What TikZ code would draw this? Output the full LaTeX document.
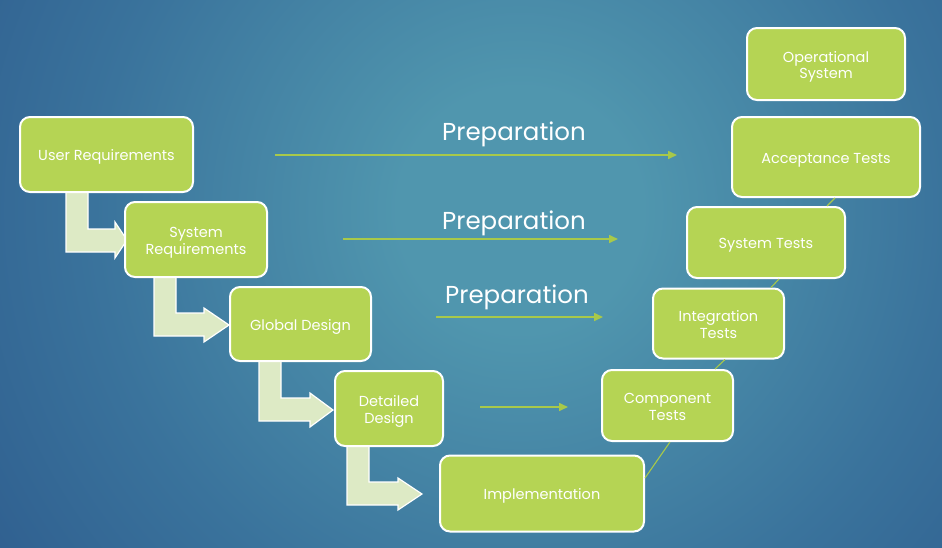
\documentclass[tikz,border=0pt]{standalone}
\usepackage{fontspec}
\setmainfont{Poppins}
\usetikzlibrary{arrows.meta,calc}
\definecolor{bginner}{HTML}{5096AE}
\definecolor{bgmid}{HTML}{3A739C}
\definecolor{bgouter}{HTML}{254B83}
\definecolor{boxgreen}{HTML}{B5D454}
\definecolor{palegreen}{HTML}{DDEAC5}
\definecolor{linegreen}{HTML}{A8C94A}
\pgfdeclareradialshading{bgshade}{\pgfpoint{0bp}{0bp}}{color(0bp)=(bginner); color(4bp)=(bginner); color(14bp)=(bgmid); color(28bp)=(bgouter); color(50bp)=(bgouter)}
\newcommand{\boxtext}[1]{\raisebox{-3pt}[\height][\depth]{\begin{tabular}{@{}c@{}}#1\end{tabular}}}
\tikzset{
  vbox/.style={draw=white, line width=2pt, fill=boxgreen, rounded corners=10pt,
    text=white, inner sep=0pt, font=\fontsize{14.5}{16.5}\selectfont},
  blockarrow/.style={draw=white, line width=1.2pt, fill=palegreen, line join=miter},
  link/.style={draw=linegreen, line width=1.1pt},
  prep/.style={draw=linegreen, line width=1.6pt, -{Triangle[length=9pt,width=8pt]}},
  preplabel/.style={text=white, inner sep=0pt, font=\fontsize{24.5}{28}\selectfont}
}
\renewcommand{\arraystretch}{1}
\begin{document}
\begin{tikzpicture}[x=1pt,y=-1pt]
\useasboundingbox (0,0) rectangle (942,547);
\begin{scope}
\clip (0,0) rectangle (942,547);
\fill[bgouter] (0,0) rectangle (942,547);
\shade[shading=bgshade] (520,210) circle (760);
\end{scope}

% block arrows (drawn under boxes)
\draw[blockarrow] (66,185) -- (66,252) -- (115,252) -- (115,258) -- (127,240) -- (115,222) -- (115,229) -- (88,229) -- (88,185) -- cycle;
\draw[blockarrow] (154,270) -- (154,336) -- (204,336) -- (204,342) -- (229,325) -- (204,308) -- (204,313) -- (176,313) -- (176,270) -- cycle;
\draw[blockarrow] (259,355) -- (259,421) -- (310,421) -- (310,427) -- (333,410) -- (310,393) -- (310,398) -- (281,398) -- (281,355) -- cycle;
\draw[blockarrow] (347,440) -- (347,505) -- (398,505) -- (398,510) -- (422,494) -- (398,478) -- (398,482) -- (369,482) -- (369,440) -- cycle;

% boxes
\node[vbox, minimum width=173pt, minimum height=75pt] (ur) at (106.5,154.5) {\boxtext{User Requirements}};
\node[vbox, minimum width=142pt, minimum height=75pt] (sr) at (196,239.5) {\boxtext{System\\Requirements}};
\node[vbox, minimum width=141pt, minimum height=74pt] (gd) at (300.5,324) {\boxtext{Global Design}};
\node[vbox, minimum width=108pt, minimum height=75pt] (dd) at (389,408.5) {\boxtext{Detailed\\Design}};
\node[vbox, minimum width=204pt, minimum height=76pt] (im) at (542,493.5) {\boxtext{Implementation}};
\node[vbox, minimum width=131pt, minimum height=71pt] (ct) at (667.5,405.5) {\boxtext{Component\\Tests}};
\node[vbox, minimum width=131pt, minimum height=70pt] (it) at (718.5,323.5) {\boxtext{Integration\\Tests}};
\node[vbox, minimum width=158pt, minimum height=71pt] (st) at (766,242.5) {\boxtext{System Tests}};
\node[vbox, minimum width=188pt, minimum height=80pt] (at) at (826,157) {\boxtext{Acceptance Tests}};
\node[vbox, minimum width=158pt, minimum height=72pt] (os) at (826,64) {\boxtext{Operational\\System}};

% thin links between test boxes
\draw[link] ([xshift=9pt]at.south) -- ([xshift=61pt]st.north);
\draw[link] ([xshift=13pt]st.south) -- ([xshift=52.5pt]it.north);
\draw[link] ([xshift=6.5pt]it.south) -- ([xshift=47.5pt]ct.north);
\draw[link] ([xshift=2.5pt]ct.south) -- ([yshift=15.5pt]im.east);

% preparation arrows
\coordinate (p1s) at (275,155); \coordinate (p1e) at (677,155);
\coordinate (p2s) at (343,239); \coordinate (p2e) at (618,239);
\coordinate (p3s) at (436,317); \coordinate (p3e) at (603,317);
\coordinate (p4s) at (480,407); \coordinate (p4e) at (568,407);
\draw[prep] (p1s) -- (p1e);
\draw[prep] (p2s) -- (p2e);
\draw[prep] (p3s) -- (p3e);
\draw[prep] (p4s) -- (p4e);
\node[preplabel] (l1) at (514,134) {Preparation};
\node[preplabel] (l2) at (514,223) {Preparation};
\node[preplabel] (l3) at (517,297) {Preparation};
\end{tikzpicture}
\end{document}
